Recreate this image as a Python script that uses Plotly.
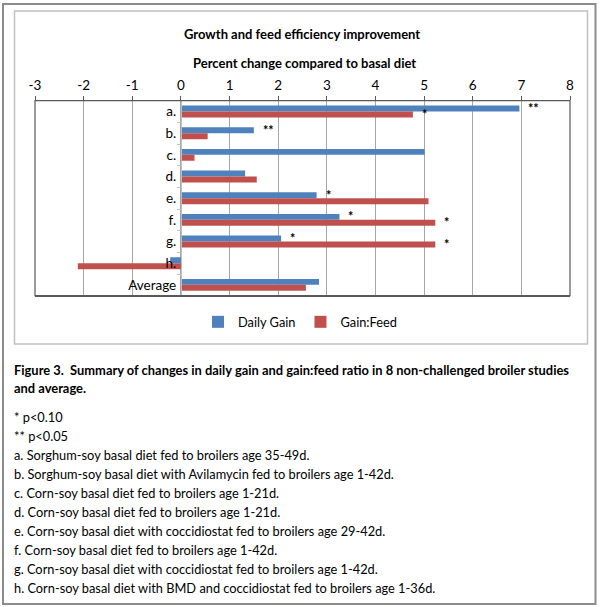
import plotly.graph_objects as go

# ---------------- data ----------------
categories = ["a.", "b.", "c.", "d.", "e.", "f.", "g.", "h.", "Average"]
daily_gain = [6.96, 1.50, 5.01, 1.32, 2.79, 3.26, 2.06, -0.22, 2.84]
gain_feed = [4.77, 0.55, 0.28, 1.56, 5.09, 5.23, 5.23, -2.12, 2.57]
sig_daily_gain = ["**", "**", "", "", "*", "*", "*", "", ""]
sig_gain_feed = ["*", "", "", "", "", "*", "*", "", ""]
x_ticks = list(range(-3, 9))
x_tick_labels = [str(t) for t in x_ticks]

series_names = ["Daily Gain", "Gain:Feed"]
chart_title = "Growth and feed efficiency improvement"
axis_title = "Percent change compared to basal diet"
caption_bold = [
    "Figure 3.&nbsp; Summary of changes in daily gain and gain:feed ratio in 8 non-challenged broiler studies",
    "and average.",
]
caption_lines = [
    "* p&lt;0.10",
    "** p&lt;0.05",
    "a. Sorghum-soy basal diet fed to broilers age 35-49d.",
    "b. Sorghum-soy basal diet with Avilamycin fed to broilers age 1-42d.",
    "c. Corn-soy basal diet fed to broilers age 1-21d.",
    "d. Corn-soy basal diet fed to broilers age 1-21d.",
    "e. Corn-soy basal diet with coccidiostat fed to broilers age 29-42d.",
    "f. Corn-soy basal diet fed to broilers age 1-42d.",
    "g. Corn-soy basal diet with coccidiostat fed to broilers age 1-42d.",
    "h. Corn-soy basal diet with BMD and coccidiostat fed to broilers age 1-36d.",
]

# ---------------- layout helpers ----------------
W, H = 600, 607
FONT = "Lato, 'Open Sans', sans-serif"
BLUE = "#4F81BD"
RED = "#C0504D"


def px_x(v):
    return v / W


def px_y(v):
    return 1 - v / H


plot_left, plot_right = 35, 570
plot_top, plot_bottom = 100.7, 295.7
x_range = [x_ticks[0], x_ticks[-1]]
bargap = 0.45

dom_x = [px_x(plot_left), px_x(plot_right)]
dom_y = [px_y(plot_bottom), px_y(plot_top)]
zero_pos = dom_x[0] + (dom_x[1] - dom_x[0]) * (0 - x_range[0]) / (x_range[1] - x_range[0])

cat_px = (plot_bottom - plot_top) / len(categories)
bar_offset = cat_px * (1 - bargap) / 4

fig = go.Figure()
fig.add_trace(go.Bar(y=categories, x=daily_gain, orientation="h", name=series_names[0],
                     marker=dict(color=BLUE, line=dict(width=0))))
fig.add_trace(go.Bar(y=categories, x=gain_feed, orientation="h", name=series_names[1],
                     marker=dict(color=RED, line=dict(width=0))))

annotations = []
for cat, val, s in zip(categories, daily_gain, sig_daily_gain):
    if s:
        annotations.append(dict(x=val, y=cat, xref="x", yref="y", text="<b>" + s + "</b>", showarrow=False,
                                xanchor="left", yanchor="middle", xshift=7, yshift=bar_offset,
                                font=dict(size=12.5, color="black", family=FONT)))
for cat, val, s in zip(categories, gain_feed, sig_gain_feed):
    if s:
        annotations.append(dict(x=val, y=cat, xref="x", yref="y", text="<b>" + s + "</b>", showarrow=False,
                                xanchor="left", yanchor="middle", xshift=7, yshift=-bar_offset,
                                font=dict(size=12.5, color="black", family=FONT)))

# chart title and axis title
annotations.append(dict(x=px_x(302), y=px_y(33.5), xref="paper", yref="paper", text="<b>" + chart_title + "</b>",
                        showarrow=False, xanchor="center", yanchor="middle",
                        font=dict(size=13, color="black", family=FONT)))
annotations.append(dict(x=px_x(304), y=px_y(63.5), xref="paper", yref="paper", text="<b>" + axis_title + "</b>",
                        showarrow=False, xanchor="center", yanchor="middle",
                        font=dict(size=13, color="black", family=FONT)))

# caption
for i, line in enumerate(caption_bold):
    annotations.append(dict(x=px_x(12), y=px_y(370 + 17.5 * i), xref="paper", yref="paper",
                            text="<b>" + line + "</b>", showarrow=False, xanchor="left", yanchor="middle",
                            font=dict(size=12.9, color="black", family=FONT)))
for i, line in enumerate(caption_lines):
    annotations.append(dict(x=px_x(12), y=px_y(416.6 + 19.07 * i), xref="paper", yref="paper",
                            text=line, showarrow=False, xanchor="left", yanchor="middle",
                            font=dict(size=12.8, color="black", family=FONT)))

shapes = [
    # outer border
    dict(type="rect", xref="paper", yref="paper", x0=px_x(3), x1=px_x(595.5), y0=px_y(604), y1=px_y(4),
         line=dict(color="#8c8c8c", width=2), layer="below"),
    # chart box
    dict(type="rect", xref="paper", yref="paper", x0=px_x(14.5), x1=px_x(587.5), y0=px_y(344), y1=px_y(11),
         line=dict(color="#c0c0c0", width=1.5), layer="below"),
    # plot area border
    dict(type="rect", xref="x domain", yref="y domain", x0=0, x1=1, y0=0, y1=1,
         line=dict(color="#595959", width=1.2), layer="above"),
]

fig.update_layout(
    width=W, height=H, autosize=False,
    margin=dict(l=0, r=0, t=0, b=0),
    paper_bgcolor="white", plot_bgcolor="white",
    font=dict(family=FONT, color="black", size=12),
    barmode="group", bargap=bargap, bargroupgap=0,
    showlegend=True,
    legend=dict(orientation="h", x=0.5, xanchor="center", y=px_y(322), yanchor="middle",
                font=dict(size=12.8, family=FONT), bgcolor="rgba(0,0,0,0)", itemwidth=30,
                traceorder="normal"),
    xaxis=dict(domain=dom_x, range=x_range, side="top", tickvals=x_ticks, ticktext=x_tick_labels,
               showgrid=True, gridcolor="#a6a6a6", gridwidth=1, zeroline=False,
               showline=True, linecolor="#595959", linewidth=1.2, mirror=True,
               ticks="outside", ticklen=4, tickcolor="#595959",
               tickfont=dict(size=13.5, family=FONT, color="black"), automargin=False,
               fixedrange=True),
    yaxis=dict(domain=dom_y, type="category", categoryorder="array", categoryarray=categories,
               range=[len(categories) - 0.5, -0.5], anchor="free", position=zero_pos,
               showline=True, linecolor="#bfbfbf", linewidth=1, showgrid=False, zeroline=False,
               ticks="outside", ticklen=4, tickcolor="#bfbfbf", tickson="boundaries",
               ticklabelstandoff=2,
               tickfont=dict(size=13.5, family=FONT, color="black"), automargin=False,
               fixedrange=True),
    annotations=annotations,
    shapes=shapes,
)

fig.write_html("out.html", config={"displayModeBar": False},
               post_script="document.body.style.margin='0';document.body.style.overflow='hidden';")
